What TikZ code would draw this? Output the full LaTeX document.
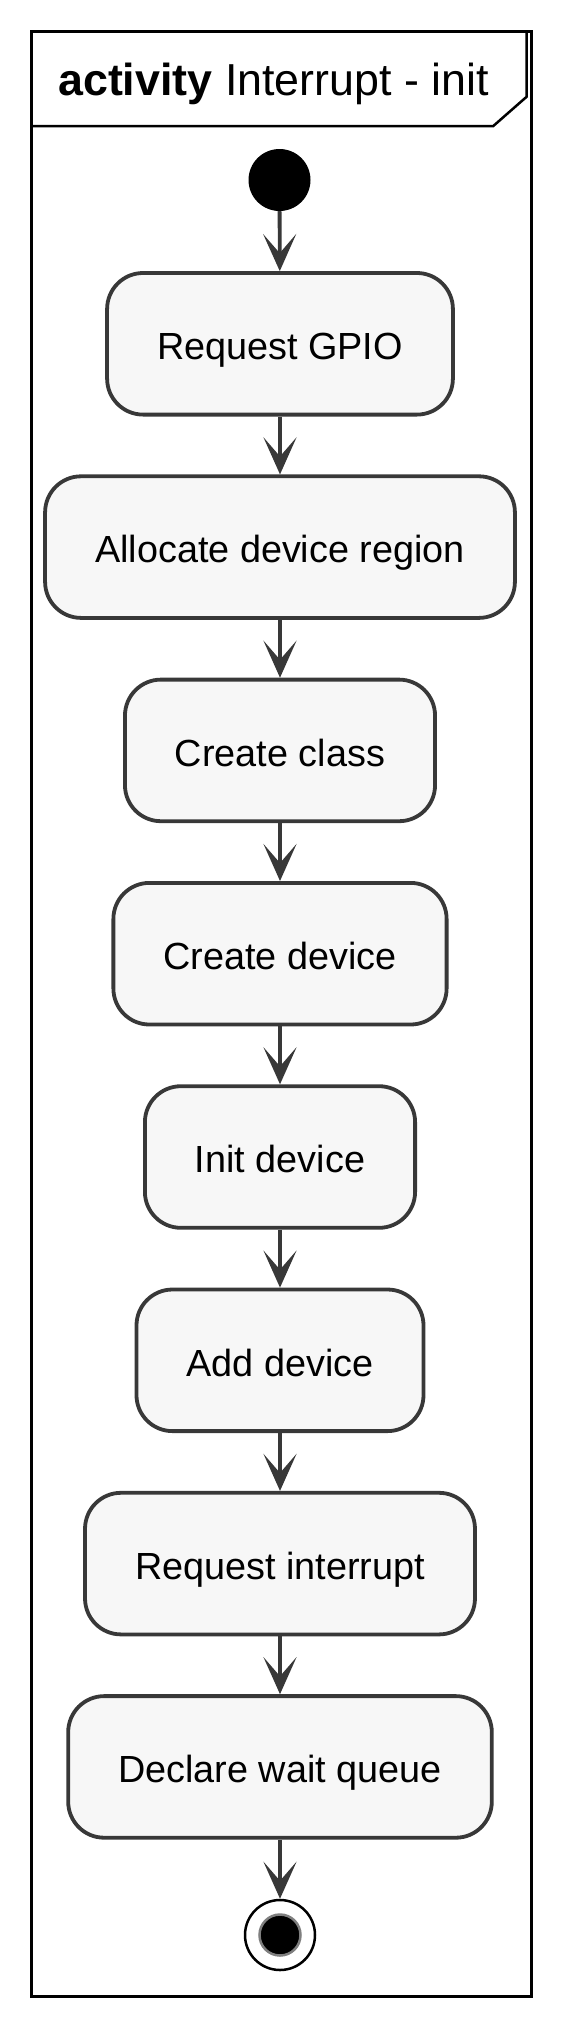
\documentclass[tikz,border=0pt]{standalone}
\usepackage{fontspec}
\setmainfont{Liberation Sans}
\usetikzlibrary{arrows.meta}
\definecolor{edge}{HTML}{383838}
\definecolor{boxfill}{HTML}{F7F7F7}
\definecolor{ringgray}{HTML}{7F7F7F}
\tikzset{
  actbox/.style={draw=edge, fill=boxfill, line width=3.8pt, rounded corners=36pt,
    minimum height=141.6pt, inner xsep=50pt, inner ysep=0pt,
    text height=31.6pt, text depth=0pt,
    font=\fontsize{37.8}{45}\selectfont},
  flow/.style={draw=edge, line width=3.8pt,
    -{Stealth[length=37pt,width=33pt,inset=19pt,fill=edge]}},
  frameline/.style={draw=black, line width=3pt},
}
\begin{document}
\begin{tikzpicture}[x=1pt,y=-1pt]
\useasboundingbox (0,0) rectangle (562,2029);
% frame
\draw[frameline] (31.7,31.7) rectangle (531.5,1996.7);
\draw[draw=black, line width=2.5pt, line join=miter] (31.7,126) -- (493.3,126) -- (526.7,96.7) -- (526.7,31.7);
\node[anchor=base west, inner sep=0pt, font=\fontsize{44.8}{52}\selectfont] (title) at (58,95) {\textbf{activity} Interrupt - init};
% start
\node[circle, fill=black, minimum size=62pt, inner sep=0pt] (s) at (279.5,180) {};
% activities
\node[actbox] (b1) at (280,343.8) {Request GPIO};
\node[actbox] (b2) at (280,547.1) {Allocate device region};
\node[actbox] (b3) at (280,750.4) {Create class};
\node[actbox] (b4) at (280,953.7) {Create device};
\node[actbox] (b5) at (280,1157.0) {Init device};
\node[actbox] (b6) at (280,1360.3) {Add device};
\node[actbox] (b7) at (280,1563.6) {Request interrupt};
\node[actbox] (b8) at (280,1766.9) {Declare wait queue};
% end
\node[circle, draw=black, fill=white, line width=2.5pt, minimum size=70pt, inner sep=0pt] (e) at (280,1935) {};
\node[circle, draw=ringgray, fill=black, line width=2.5pt, minimum size=41pt, inner sep=0pt] (ei) at (280,1935) {};
% connectors
\draw[flow] (s) -- (b1);
\draw[flow] (b1) -- (b2);
\draw[flow] (b2) -- (b3);
\draw[flow] (b3) -- (b4);
\draw[flow] (b4) -- (b5);
\draw[flow] (b5) -- (b6);
\draw[flow] (b6) -- (b7);
\draw[flow] (b7) -- (b8);
\draw[flow] (b8) -- (e);
\end{tikzpicture}
\end{document}
